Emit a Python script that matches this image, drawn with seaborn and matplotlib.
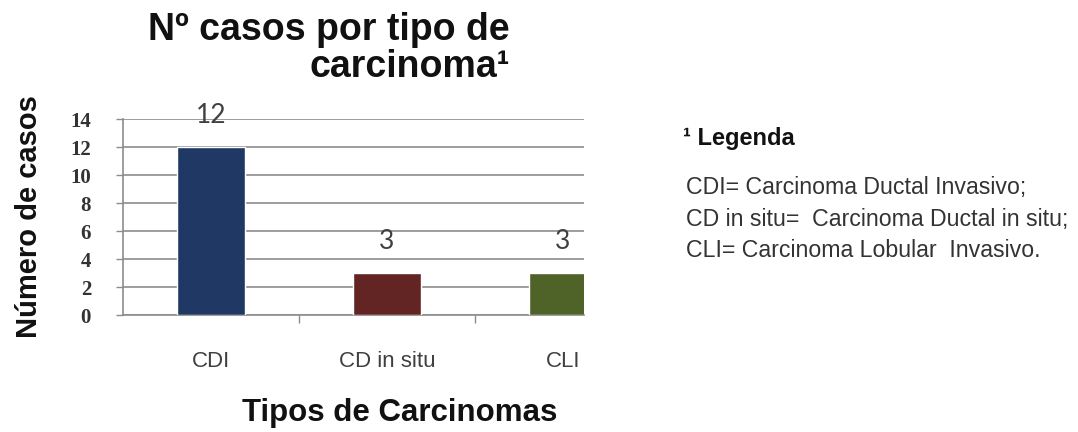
import matplotlib as mpl
import matplotlib.pyplot as plt
import seaborn as sns
import pandas as pd
import numpy as np

# data
tipos = ["CDI", "CD in situ", "CLI"]
casos = [12, 3, 3]
cores = ["#203864", "#632523", "#4F6228"]
y_ticks = [0, 2, 4, 6, 8, 10, 12, 14]

legenda_titulo = "\u00b9 Legenda"
legenda_linhas = ["CDI= Carcinoma Ductal Invasivo;",
                  "CD in situ=  Carcinoma Ductal in situ;",
                  "CLI= Carcinoma Lobular  Invasivo."]

sns.set_style("white")
plt.rcParams['font.family'] = ['Liberation Sans', 'DejaVu Sans']

df = pd.DataFrame({"Tipo": tipos, "Casos": casos})

fig = plt.figure(figsize=(10.78, 4.32), dpi=100)
ax = fig.add_axes([0.1141, 0.2708, 0.4276, 0.4537])

sns.barplot(data=df, x="Tipo", y="Casos", hue="Tipo", palette=cores,
            width=0.386, saturation=1, legend=False, ax=ax, zorder=3)

for cont in ax.containers:
    ax.bar_label(cont, padding=14, fontsize=19, color="#404040",
                 family=['Lato', 'DejaVu Sans'])

ax.set_ylim(0, 14)
ax.set_xlim(-0.5, 2.12)
ax.set_yticks(y_ticks)
ax.yaxis.grid(True, color="#8c8c8c", linewidth=1.2, zorder=0)
ax.set_axisbelow(True)

# tick labels
ax.tick_params(axis="y", length=5, color="#8c8c8c", width=1, pad=18,
               labelsize=15, labelcolor="#333333", left=True)
for lab in ax.get_yticklabels():
    lab.set_family(['Liberation Serif', 'DejaVu Serif'])
    lab.set_fontweight('bold')
ax.tick_params(axis="x", which="major", length=0, pad=26,
               labelsize=16, labelcolor="#404040")
ax.set_xticks([0.5, 1.5], minor=True)
ax.tick_params(axis="x", which="minor", length=6, color="#8c8c8c", width=1,
               bottom=True)

for s in ["top", "right"]:
    ax.spines[s].set_visible(False)
for s in ["left", "bottom"]:
    ax.spines[s].set_color("#8c8c8c")
    ax.spines[s].set_linewidth(1.2)

ax.set_ylabel("Número de casos", fontsize=21, fontweight="bold", color="#111111")
ax.yaxis.set_label_coords(-0.205, 0.5)
ax.set_xlabel("Tipos de Carcinomas", fontsize=22.5, fontweight="bold", color="#111111")
ax.xaxis.set_label_coords(0.60, -0.5)
ax.xaxis.label.set_va("center")
ax.yaxis.label.set_va("center")

fig.text(0.473, 0.972, "Nº casos por tipo de\ncarcinoma\u00b9", ha="right", va="top",
         fontsize=27, fontweight="bold", linespacing=1.02, color="#111111")

# legend box on the right
fig.text(0.634, 0.68, legenda_titulo, fontsize=17, fontweight="bold",
         ha="left", va="center", color="#111111")
for i, linha in enumerate(legenda_linhas):
    fig.text(0.636, 0.565 - i * 0.0725, linha, fontsize=16.7, ha="left",
             va="center", color="#333333")

fig.savefig("out.png", dpi=100)
plt.close()
